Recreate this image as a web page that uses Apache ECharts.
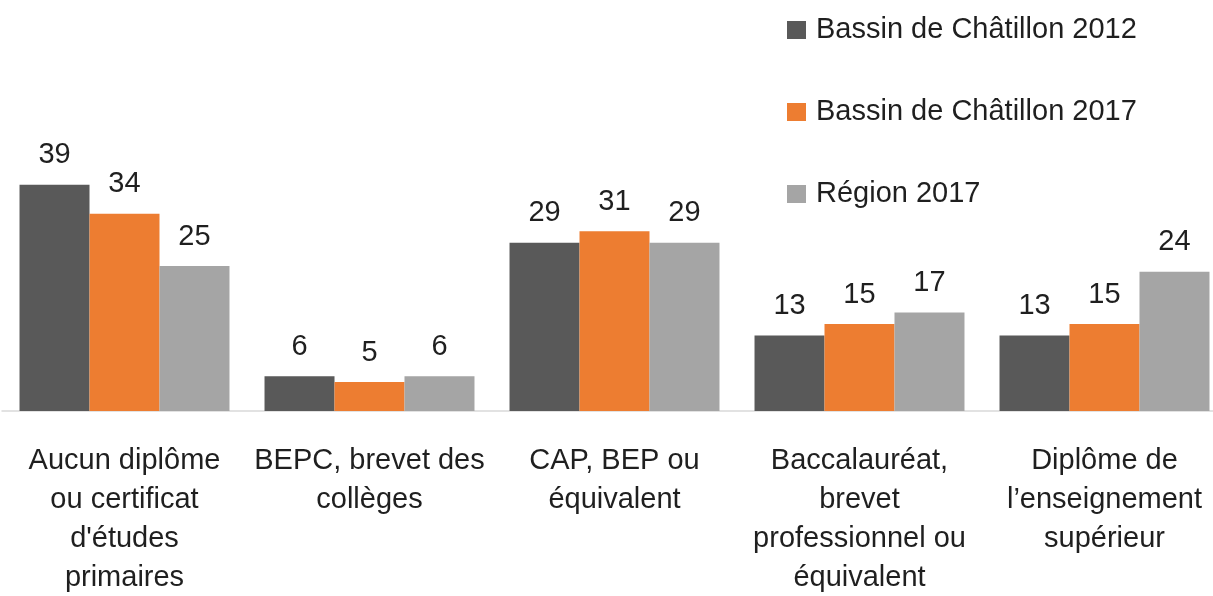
<!DOCTYPE html>
<html>
<head>
<meta charset="utf-8">
<script src="https://cdn.jsdelivr.net/npm/echarts@6/dist/echarts.min.js"></script>
<style>
  html, body { margin: 0; padding: 0; background: #fff; }
  #main { width: 1213px; height: 596px; }
</style>
</head>
<body>
<div id="main"></div>
<script>
// niveaux de diplôme
const categories = [
  "Aucun diplôme\nou certificat\nd'études\nprimaires",
  "BEPC, brevet des\ncollèges",
  "CAP, BEP ou\néquivalent",
  "Baccalauréat,\nbrevet\nprofessionnel ou\néquivalent",
  "Diplôme de\nl’enseignement\nsupérieur"
];
const seriesNames = ["Bassin de Châtillon 2012", "Bassin de Châtillon 2017", "Région 2017"];
const bassin2012 = [39, 6, 29, 13, 13];
const bassin2017 = [34, 5, 31, 15, 15];
const region2017 = [25, 6, 29, 17, 24];

const colors = ["#595959", "#ED7D31", "#A5A5A5"];
const FONT = "Liberation Sans";

let myChart = echarts.init(document.getElementById('main'));

function barSeries(name, data, color) {
  return {
    name: name,
    type: 'bar',
    barGap: 0,
    barCategoryGap: '14.3%',
    itemStyle: { color: color },
    label: {
      show: true,
      position: 'top',
      distance: 15,
      color: '#1f1f1f',
      fontFamily: FONT,
      fontSize: 29
    },
    data: data
  };
}

myChart.setOption({
  animation: false,
  textStyle: { fontFamily: FONT },
  legend: {
    orient: 'vertical',
    left: 782,
    top: 7,
    itemWidth: 19,
    itemHeight: 18,
    itemGap: 46,
    icon: 'rect',
    textStyle: {
      fontFamily: FONT,
      fontSize: 29,
      color: '#1f1f1f',
      lineHeight: 36,
      padding: [0, 0, 0, 5]
    },
    data: seriesNames
  },
  grid: {
    left: 2,
    width: 1225,
    top: 150,
    bottom: 185,
    containLabel: false,
    outerBoundsMode: 'none'
  },
  xAxis: {
    type: 'category',
    data: categories,
    axisTick: { show: false },
    axisLine: { lineStyle: { color: '#d9d9d9', width: 1.5 } },
    axisLabel: {
      interval: 0,
      margin: 30,
      fontFamily: FONT,
      fontSize: 29,
      lineHeight: 39,
      color: '#1f1f1f'
    }
  },
  yAxis: {
    type: 'value',
    min: 0,
    max: 45,
    show: false,
    splitLine: { show: false }
  },
  series: [
    barSeries(seriesNames[0], bassin2012, colors[0]),
    barSeries(seriesNames[1], bassin2017, colors[1]),
    barSeries(seriesNames[2], region2017, colors[2])
  ]
});
</script>
</body>
</html>
